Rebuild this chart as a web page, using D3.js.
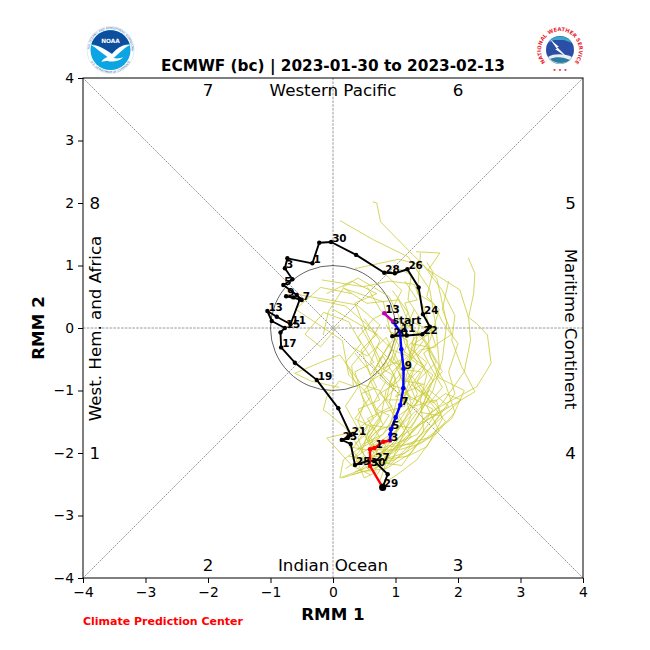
<!DOCTYPE html>
<html>
<head>
<meta charset="utf-8">
<script src="https://cdn.jsdelivr.net/npm/d3@7"></script>
<style>
  html, body { margin: 0; padding: 0; background: #fff; }
  text { font-family: "DejaVu Sans", sans-serif; }
</style>
</head>
<body>
<svg id="chart" width="650" height="650"></svg>
<script>
const titleText = "ECMWF (bc) | 2023-01-30 to 2023-02-13";
const tickValues = [-4, -3, -2, -1, 0, 1, 2, 3, 4];

// observed days, one per point of obsPath
const obsDays = [20, 21, 22, 23, 24, 25, 26, 27, 28, 29, 30, 31, 1, 2, 3, 4, 5, 6, 7, 8, 9, 10,
  11, 12, 13, 14, 15, 16, 17, 18, 19, 20, 21, 22, 23, 24, 25, 26, 27, 28, 29];
const obsPath = [[0.95, -0.13], [1.18, -0.12], [1.43, -0.1], [1.55, 0.02], [1.44, 0.22], [1.37, 0.65],
  [1.19, 0.94], [0.99, 0.875], [0.82, 0.885], [0.37, 1.17], [-0.03, 1.376], [-0.22, 1.365],
  [-0.33, 1.035], [-0.73, 1.115], [-0.77, 0.955], [-0.65, 0.78], [-0.795, 0.688], [-0.58, 0.528],
  [-0.5, 0.448], [-0.635, 0.49], [-0.75, 0.507], [-0.53, 0.46], [-0.68, 0.06], [-0.9, 0.18],
  [-1.05, 0.272], [-0.98, 0.112], [-0.77, 0], [-0.84, -0.07], [-0.83, -0.31], [-0.61, -0.555],
  [-0.26, -0.83], [0.085, -1.285], [0.283, -1.712], [0.24, -1.75], [0.14, -1.79], [0.283, -1.856],
  [0.352, -2.192], [0.58, -2.12], [0.66, -2.13], [0.875, -2.34], [0.795, -2.55]];

// ensemble mean forecast
const fcstDays = [29, 30, 31, 1, 2, 3, 4, 5, 6, 7, 8, 9, 10, 11, 12, 13];
const fcstPath = [[0.795, -2.55], [0.592, -2.208], [0.592, -1.94], [0.664, -1.92], [0.805, -1.82],
  [0.912, -1.8], [0.92, -1.7], [0.928, -1.62], [1.003, -1.43], [1.077, -1.232], [1.125, -0.965],
  [1.13, -0.65], [1.093, -0.34], [1.072, -0.06], [0.965, 0.1], [0.82, 0.235]];
const fcstColors = ["red", "red", "red", "red", "red", "blue", "blue", "blue", "blue", "blue",
  "blue", "blue", "blue", "blue", "#c000c0"];

const members = [
  [[0.75, -2.45], [0.9, -2.0], [1.2, -1.75], [1.5, -1.4], [1.71, -1.26], [2.3, -0.94], [2.53, -0.565], [2.47, -0.11], [2.3, 0.07], [2.17, 0.17], [2.25, 0.55], [2.27, 0.875], [2.165, 1.125]],
  [[0.7, -2.35], [1.0, -1.9], [1.3, -1.5], [1.6, -1.0], [1.75, -0.5], [1.82, 0.08], [1.66, 0.795], [1.23, 1.22], [0.76, 1.7], [0.7, 2.0], [0.635, 2.02]],
  [[0.65, -2.3], [1.1, -1.7], [1.45, -1.2], [1.7, -0.6], [1.65, 0], [1.55, 0.61], [1.2, 1.14], [0.65, 1.41], [0.11, 1.72]],
  [[0.8, -2.3], [1.3, -1.6], [1.75, -1.2], [2.1, -0.7], [2.2, -0.2], [2.17, 0.155], [2.03, 0.61], [1.525, 0.93], [1.71, 1.2], [1.33, 1.22]],
  [[0.6, -2.2], [1.05, -1.75], [1.55, -1.45], [2.27, -1.02], [2.05, -0.6], [1.9, -0.2], [1.95, 0.2], [1.75, 0.6], [1.45, 1.0], [1.05, 1.1], [0.35, 0.95]],
  [[0.78, -2.5], [1.02, -2.35], [1.34, -2.11], [1.6, -1.75], [1.95, -1.35], [1.8, -0.9], [1.55, -0.45], [1.5, 0.2], [1.3, 0.7], [0.9, 0.75], [0.48, 0.66], [-0.18, 0.77]],
  [[0.5, -2.25], [0.11, -2.4], [0.165, -2.11], [0.45, -1.9], [0.75, -1.5], [0.85, -1.0], [1.2, -0.6], [1.3, -0.1], [1.05, 0.45], [0.54, 0.395], [0.17, 0.64]],
  [[0.6, -2.35], [0.3, -2.2], [-0.1, -1.76], [0.32, -1.66], [0.7, -1.4], [0.55, -0.95], [0.75, -0.5], [0.95, -0.2], [0.805, 0.42], [0.165, 0.635], [-0.075, 0.26], [-0.155, -0.11]],
  [[0.55, -2.1], [0.2, -1.6], [-0.08, -1.36], [-0.155, -1.31], [-0.1, -1.1], [0.1, -0.85], [0.325, -0.93], [0.3, -0.6], [0.55, -0.3], [0.75, 0.05], [0.38, 0.37], [-0.53, 0.53]],
  [[0.7, -2.2], [0.85, -1.85], [1.0, -1.45], [0.75, -1.0], [0.45, -0.9], [0.11, -0.43], [-0.2, -0.55], [-0.61, -0.725], [-0.35, -0.85], [0.1, -0.95]],
  [[0.9, -2.2], [1.25, -1.85], [1.6, -1.55], [1.95, -1.05], [1.85, -0.7], [2.0, -0.25], [1.75, 0.1], [1.6, 0.4], [1.35, 0.55], [1.4, 1.2]],
  [[0.65, -2.15], [1.15, -2.0], [1.45, -1.65], [1.4, -1.15], [1.5, -0.75], [1.3, -0.35], [1.4, 0.15], [1.2, 0.45], [1.25, 0.85], [0.95, 1.0]],
  [[0.55, -2.25], [0.95, -2.1], [1.25, -1.4], [1.1, -0.95], [1.35, -0.55], [1.15, -0.25], [1.05, 0.2], [0.9, 0.5], [0.4, 0.8], [0.15, 0.65]],
  [[0.75, -2.05], [1.1, -1.55], [0.9, -1.2], [1.0, -0.8], [0.8, -0.45], [0.6, -0.75], [0.45, -0.35], [0.7, -0.1], [0.35, 0.1], [0, 0.3]],
  [[0.6, -2.05], [0.95, -1.75], [1.3, -1.25], [1.6, -0.85], [1.35, -0.45], [1.55, -0.2], [1.7, 0.3], [1.5, 0.5], [1.6, 0.9], [1.5, 1.05]],
  [[0.65, -2.0], [0.55, -1.7], [0.8, -1.35], [1.15, -1.25], [0.95, -0.7], [1.2, -0.45], [0.95, -0.35], [0.55, 0.05], [0.2, 0.35], [-0.25, 0.45]],
  [[0.8, -2.0], [1.2, -1.85], [1.55, -1.75], [1.8, -1.5], [1.45, -1.05], [1.25, -0.75], [1, -1.1], [1.45, -0.9], [1.15, -0.85], [1.35, -0.15]],
  [[0.45, -2.0], [0.6, -1.55], [0.9, -1.6], [1.05, -1.05], [0.75, -0.8], [0.95, -0.45], [1.15, -0.75], [0.85, -0.15], [0.55, -0.45], [0.3, -0.3]],
  [[0.7, -1.95], [1.05, -1.95], [1.4, -1.85], [1.7, -1.65], [1.5, -1.25], [1.75, -0.95], [1.55, -0.6], [1.45, -0.4], [1.9, -0.1], [1.75, 0.3], [1.85, 0.75]],
  [[0.6, -1.9], [0.4, -1.5], [0.5, -1.2], [0.35, -0.7], [0.65, -0.55], [0.4, -0.15], [0.65, 0.15], [0.95, 0.3], [1.1, 0.6], [0.85, 0.85]],
  [[0.85, -1.85], [1.15, -1.45], [1.35, -1.05], [1.15, -0.6], [1.3, -0.25], [1.6, -0.05], [1.25, 0.1], [1.15, 0.4], [1.35, 0.45], [1.15, 0.75]],
  [[0.5, -1.85], [0.8, -1.7], [1.05, -1.3], [1.2, -1.0], [0.9, -0.9], [1.1, -0.5], [0.8, -0.65], [1.05, -0.05], [0.75, 0.3], [0.55, 0.65]],
  [[0.35, -2.3], [0.75, -2.15], [1.05, -1.85], [1.45, -1.5], [1.85, -1.25], [1.55, -1.0], [1.25, -1.15], [1.0, -0.6], [0.7, -0.3]],
  [[0.3, -2.1], [0.7, -1.85], [1.0, -1.65], [1.35, -1.3], [1.1, -1.15], [1.4, -0.7], [1.05, -0.65], [1.2, -0.2], [0.9, -0.05]],
  [[0.25, -1.9], [0.55, -1.95], [0.95, -1.55], [1.25, -1.6], [1.55, -1.1], [1.3, -0.95], [1.5, -0.55], [1.2, -0.3], [1.4, -0.05]],
  [[0.4, -2.15], [0.85, -1.95], [1.15, -1.65], [0.95, -1.35], [1.2, -1.15], [0.85, -1.15], [0.95, -0.75], [0.7, -0.6], [0.9, -0.25]],
  [[0.45, -2.25], [0.7, -2.0], [0.6, -1.75], [0.8, -1.55], [0.65, -1.2], [0.85, -0.85], [0.6, -0.55], [0.75, -0.2], [0.5, 0.15]],
  [[0.2, -2.25], [0.5, -2.05], [0.4, -1.75], [0.65, -1.45], [0.45, -1.05], [0.7, -0.95], [0.55, -0.65], [0.35, -0.4]],
  [[0.85, -2.1], [1.2, -2.05], [1.5, -1.9], [1.75, -1.45], [1.65, -1.15], [1.3, -1.25], [1.6, -0.75], [1.25, -0.5], [1.15, -0.1]],
  [[0.55, -2.0], [1.0, -1.85], [1.35, -1.7], [1.6, -1.3], [1.15, -1.05], [1.3, -0.65], [0.95, -0.55], [1.1, -0.15], [1.3, 0.3]],
  [[0.4, -1.95], [0.75, -1.75], [0.55, -1.45], [0.95, -1.25], [0.75, -1.05], [1.05, -0.85], [1.25, -0.45], [1.45, -0.2], [1.2, 0.05]],
  [[0.7, -2.3], [0.5, -2.4], [0.35, -2.05], [0.7, -1.65], [1.05, -1.5], [1.25, -1.2], [1.05, -0.7], [1.4, -0.35], [1.65, -0.3], [1.5, 0.15]],
  [[0.75, -2.15], [1.1, -2.2], [1.35, -1.85], [1.7, -1.4], [1.4, -1.35], [1.55, -0.9], [1.75, -0.7], [1.45, -0.15], [1.65, 0.05]],
  [[0.5, -2.1], [0.95, -2.0], [1.25, -1.75], [1.05, -1.4], [1.35, -1.2], [1.2, -0.85], [1.45, -0.6], [1.1, -0.35], [0.85, 0.05]],
  [[0.65, -2.25], [0.85, -2.15], [0.6, -1.85], [0.9, -1.4], [0.7, -1.3], [1.0, -0.95], [0.8, -0.75], [0.65, -0.35], [0.45, 0]],
  [[0.6, -2.3], [0.3, -1.95], [0.55, -1.6], [0.4, -1.3], [0.75, -1.15], [0.6, -0.85], [0.9, -0.65], [1.0, -0.25], [1.2, 0.25], [0.95, 0.6]],
  [[0.15, -2.4], [0.45, -2.3], [0.85, -2.25], [1.25, -2.0], [1.55, -1.6], [2.05, -1.15], [1.8, -1.05], [1.6, -1.2], [1.25, -0.9]],
  [[0.3, -2.35], [0.65, -2.25], [1.0, -2.1], [1.45, -1.8], [1.9, -1.45], [2.1, -1.0], [1.7, -0.8], [1.5, -0.3], [1.25, -0.25]],
  [[0.25, -2.05], [0.6, -2.1], [0.9, -1.9], [1.3, -1.85], [1.7, -1.3], [1.35, -0.85], [1.65, -0.55], [1.4, -0.1], [1.1, 0.1]],
  [[0.35, -1.85], [0.65, -1.6], [0.35, -1.45], [0.6, -1.1], [0.25, -0.75], [0.15, -0.2], [-0.3, 0.1], [-0.6, 0.3], [-0.2, 0.65], [0.3, 0.55]],
  [[0.45, -1.7], [0.2, -1.25], [0.4, -0.95], [0.2, -0.55], [0.45, -0.25], [0.25, 0.1], [-0.15, 0.25], [-0.45, -0.1], [-0.2, -0.3], [0.1, 0.05]],
  [[0.55, -1.8], [0.75, -1.45], [0.5, -1.0], [0.8, -0.6], [0.55, -0.1], [0.35, 0.4], [0.7, 0.55], [0.3, 0.75], [-0.1, 0.55]]
];

const octants = [["7", -2, 3.81], ["6", 2, 3.81], ["8", -3.81, 2], ["5", 3.8, 2],
  ["1", -3.81, -2], ["4", 3.8, -2], ["2", -2, -3.79], ["3", 2, -3.79]];
const diagonals = [[[-4, -4], [4, 4]], [[-4, 4], [4, -4]]];
const zeroLines = [[[-4, 0], [4, 0]], [[0, -4], [0, 4]]];

const x = d3.scaleLinear().domain([-4, 4]).range([83, 583]);
const y = d3.scaleLinear().domain([-4, 4]).range([578, 78]);
const line = d3.line().x(d => x(d[0])).y(d => y(d[1]));
const svg = d3.select("#chart");

// guide lines
svg.selectAll(".diag").data(diagonals).enter().append("path")
  .attr("d", line).attr("fill", "none").attr("stroke", "#808080")
  .attr("stroke-width", 0.8).attr("stroke-dasharray", "2,1");
svg.selectAll(".zero").data(zeroLines).enter().append("path")
  .attr("d", line).attr("fill", "none").attr("stroke", "#808080")
  .attr("stroke-width", 0.8).attr("stroke-dasharray", "2.6,1.2");
svg.append("circle")
  .attr("cx", x(0)).attr("cy", y(0)).attr("r", x(1) - x(0))
  .attr("fill", "none").attr("stroke", "#222").attr("stroke-width", 0.7);

// ensemble
svg.selectAll(".member").data(members).enter().append("path")
  .attr("d", line).attr("fill", "none").attr("stroke", "#c8c82e")
  .attr("stroke-width", 0.75);

// observed track
svg.append("path").datum(obsPath)
  .attr("d", line).attr("fill", "none").attr("stroke", "black")
  .attr("stroke-width", 1.9).attr("stroke-linejoin", "round");
svg.selectAll(".obs").data(obsPath).enter().append("circle")
  .attr("cx", d => x(d[0])).attr("cy", d => y(d[1])).attr("r", 2.2).attr("fill", "black");

// forecast mean, colored by week
fcstColors.forEach((c, i) => {
  svg.append("path").datum([fcstPath[i], fcstPath[i + 1]])
    .attr("d", line).attr("fill", "none").attr("stroke", c)
    .attr("stroke-width", 2.4).attr("stroke-linecap", "round");
  svg.append("circle")
    .attr("cx", x(fcstPath[i + 1][0])).attr("cy", y(fcstPath[i + 1][1]))
    .attr("r", 2.3).attr("fill", c);
});
svg.append("circle")
  .attr("cx", x(fcstPath[0][0])).attr("cy", y(fcstPath[0][1])).attr("r", 3.6).attr("fill", "black");

// day labels, every second day
const dayLabel = (s, t) => svg.append("text")
  .attr("x", x(s[0]) + 1).attr("y", y(s[1])).attr("font-size", 10.4)
  .attr("font-weight", "bold").attr("fill", "black").text(t);
obsPath.forEach((p, i) => { if (i % 2 === 0) dayLabel(p, obsDays[i]); });
fcstPath.forEach((p, i) => { if (i % 2 === 1) dayLabel(p, fcstDays[i]); });
dayLabel([0.945, 0.065], "start");

// frame and axes
svg.append("rect").attr("x", 83).attr("y", 78).attr("width", 500).attr("height", 500)
  .attr("fill", "none").attr("stroke", "black").attr("stroke-width", 1);
const xAxis = svg.append("g").attr("transform", "translate(0,578)")
  .call(d3.axisBottom(x).tickValues(tickValues).tickSize(5).tickPadding(4));
const yAxis = svg.append("g").attr("transform", "translate(83,0)")
  .call(d3.axisLeft(y).tickValues(tickValues).tickSize(5).tickPadding(4));
[xAxis, yAxis].forEach(a => {
  a.select(".domain").remove();
  a.selectAll("text").attr("font-size", 13.9).attr("font-family", "DejaVu Sans").attr("fill", "black");
  a.selectAll("line").attr("stroke", "black");
});

// octant numbers and region names
svg.selectAll(".oct").data(octants).enter().append("text")
  .attr("x", d => x(d[1])).attr("y", d => y(d[2])).attr("dy", "0.36em")
  .attr("text-anchor", "middle").attr("font-size", 16.7).text(d => d[0]);
const region = (t, px, py, rot) => svg.append("text")
  .attr("transform", `translate(${px},${py}) rotate(${rot})`)
  .attr("text-anchor", "middle").attr("dy", "0.36em").attr("font-size", 16.7).text(t);
region("Western Pacific", x(0), 90, 0);
region("Indian Ocean", x(0), 565, 0);
region("West. Hem. and Africa", 95, 328.5, -90);
region("Maritime Continent", 571, 329, 90);

// titles
svg.append("text").attr("x", 333).attr("y", 71).attr("text-anchor", "middle")
  .attr("font-size", 15.3).attr("font-weight", "bold").text(titleText);
svg.append("text").attr("x", 333).attr("y", 620).attr("text-anchor", "middle")
  .attr("font-size", 16.7).attr("font-weight", "bold").text("RMM 1");
svg.append("text").attr("transform", "translate(44,328) rotate(-90)").attr("text-anchor", "middle")
  .attr("font-size", 16.7).attr("font-weight", "bold").text("RMM 2");
svg.append("text").attr("x", 83).attr("y", 625)
  .attr("font-size", 11).attr("font-weight", "bold").attr("fill", "red").text("Climate Prediction Center");

// NOAA logo
const noaa = svg.append("g").attr("transform", "translate(110.5,50)");
noaa.append("circle").attr("r", 23.5).attr("fill", "#fff").attr("stroke", "#c4d6ea").attr("stroke-width", 0.5);
noaa.append("circle").attr("r", 20).attr("fill", "#0ba5e4");
noaa.append("path").attr("d", "M-19,-6 A20,20 0 0 1 19,-6 C12,-6 6,-1 1.5,4 C-4,0 -12,-5 -19,-6 Z").attr("fill", "#0d4f9e");
noaa.append("path").attr("d", "M-19.5,-5 C-12,-5 -4,0 1.5,4 C6,-1 12,-6 19.5,-5 C13,-2 8,4 3,8 C7,9 11,8 13,7 C8,12 2,12 -3,11 C-5,11 -7,11 -9,12 C-8,9 -5,8 -3,7 C-9,3 -14,-2 -19.5,-5 Z").attr("fill", "#fff");
noaa.append("text").attr("y", -7).attr("text-anchor", "middle").attr("font-size", 5.8).attr("font-weight", "bold").attr("fill", "#fff").text("NOAA");
noaa.append("path").attr("id", "noaaTop").attr("d", "M-21,0 A21,21 0 0 1 21,0").attr("fill", "none");
noaa.append("path").attr("id", "noaaBot").attr("d", "M-23,0 A23,23 0 0 0 23,0").attr("fill", "none");
noaa.append("text").attr("font-size", 2.8).attr("fill", "#2a5ea8").append("textPath").attr("href", "#noaaTop")
  .attr("startOffset", "50%").attr("text-anchor", "middle").text("NATIONAL OCEANIC AND ATMOSPHERIC ADMINISTRATION");
noaa.append("text").attr("font-size", 2.8).attr("fill", "#2a5ea8").append("textPath").attr("href", "#noaaBot")
  .attr("startOffset", "50%").attr("text-anchor", "middle").text("U.S. DEPARTMENT OF COMMERCE");

// NWS logo
const nws = svg.append("g").attr("transform", "translate(560,50)");
nws.append("circle").attr("r", 14).attr("fill", "#2b4fa6");
nws.append("path").attr("d", "M-12,-7 A14,14 0 0 1 12,-7 L4,-10 L-6,-10 Z").attr("fill", "#38a7c8");
nws.append("path").attr("d", "M-12,7 C-6,3 6,4 12,7 A14,14 0 0 1 -12,7 Z").attr("fill", "#e8eef4");
nws.append("path").attr("d", "M-10,-11 L-1,-3 L-3,-3 L8,8 L-5,-1 L-3,-1 Z").attr("fill", "#fff");
nws.append("path").attr("d", "M-10,9 C-4,6 4,7 10,10 C5,14 -5,14 -10,9 Z").attr("fill", "#2a7f9e");
nws.append("path").attr("id", "nwsTop").attr("d", "M-9.5,16.5 A19,19 0 1 1 9.5,16.5").attr("fill", "none");
nws.append("text").attr("font-size", 5.2).attr("font-weight", "bold").attr("fill", "#e8252e").append("textPath").attr("href", "#nwsTop")
  .attr("startOffset", "50%").attr("text-anchor", "middle").text("NATIONAL WEATHER SERVICE");
nws.append("text").attr("y", 22).attr("text-anchor", "middle").attr("font-size", 5.5).attr("font-weight", "bold").attr("fill", "#e8252e").text("• • •");
</script>
</body>
</html>
